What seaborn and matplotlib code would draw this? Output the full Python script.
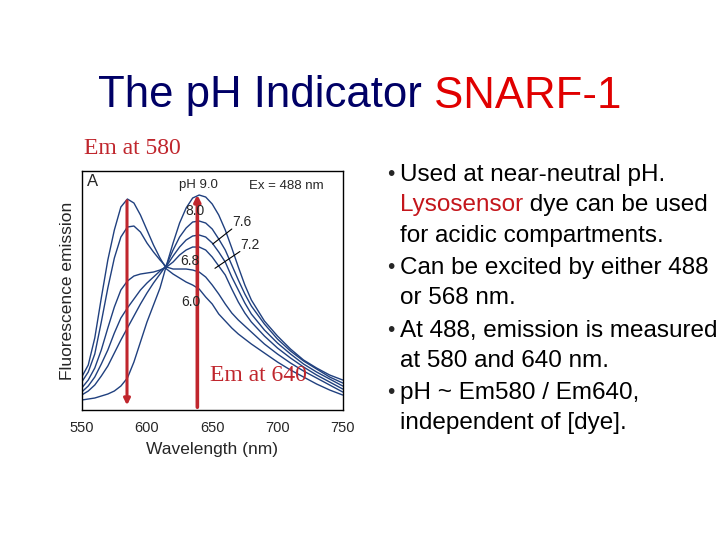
import matplotlib
matplotlib.use("Agg")
import matplotlib.pyplot as plt
import numpy as np
import pandas as pd
import seaborn as sns

# emission spectra of SNARF-1 (arbitrary units)
wavelength = [550, 555, 560, 565, 570, 575, 580, 585, 590, 595, 600, 605, 610, 615, 620, 625,
              630, 635, 640, 645, 650, 655, 660, 665, 670, 675, 680, 690, 700, 710, 720, 730,
              740, 750]
ph_60 = [33, 45, 72, 112, 150, 180, 203, 211, 207, 195, 180, 165, 152, 141, 136, 132,
         128, 125, 121, 113, 106, 96, 89, 82, 76, 71, 66, 57, 48, 40, 33, 26, 20, 15]
ph_68 = [28, 38, 56, 88, 122, 152, 173, 183, 184, 178, 167, 158, 150, 143, 141, 141,
         141, 140, 138, 133, 125, 116, 106, 97, 90, 84, 78, 66, 56, 47, 39, 32, 25, 18]
ph_72 = [22, 30, 42, 60, 82, 103, 120, 129, 134, 136, 137, 138, 140, 143, 148, 155,
         160, 163, 163, 160, 153, 144, 135, 121, 108, 97, 88, 74, 62, 52, 43, 35, 28, 21]
ph_76 = [18, 24, 33, 46, 60, 77, 92, 102, 111, 120, 127, 133, 139, 144, 154, 163,
         170, 174, 175, 173, 167, 158, 148, 133, 120, 107, 96, 80, 67, 56, 46, 38, 31, 24]
ph_80 = [15, 19, 25, 34, 44, 57, 70, 82, 94, 106, 117, 127, 136, 145, 160, 173,
         182, 188, 189, 187, 181, 171, 160, 145, 130, 116, 104, 86, 71, 59, 49, 41, 33, 27]
ph_90 = [10, 11, 12, 14, 16, 19, 24, 32, 48, 68, 88, 105, 122, 145, 167, 187,
         202, 212, 215, 213, 206, 195, 180, 162, 143, 125, 110, 89, 74, 61, 50, 42, 35, 30]

ph_labels = ["6.0", "6.8", "7.2", "7.6", "8.0", "9.0"]
series = [ph_60, ph_68, ph_72, ph_76, ph_80, ph_90]
x_ticks = [550, 600, 650, 700, 750]

bullets = [
    ["Used at near-neutral pH.", "|Lysosensor| dye can be used", "for acidic compartments."],
    ["Can be excited by either 488", "or 568 nm."],
    ["At 488, emission is measured", "at 580 and 640 nm."],
    ["pH ~ Em580 / Em640,", "independent of [dye]."],
]

df = pd.concat([pd.DataFrame({"wavelength": wavelength, "intensity": s, "pH": p})
                for p, s in zip(ph_labels, series)], ignore_index=True)

sns.set_style("white")
plt.rcParams["font.family"] = ["Liberation Sans", "DejaVu Sans"]

NAVY = "#20407f"
RED = "#c0262d"

fig = plt.figure(figsize=(7.2, 5.4), dpi=100)
fig.patch.set_facecolor("white")


def px(x, y):
    return x / 720, 1 - y / 540


# overlay axes for slide text
over = fig.add_axes([0, 0, 1, 1])
over.set_axis_off()
over.set_xlim(0, 1)
over.set_ylim(0, 1)

# title
t1 = over.text(*px(98, 96), "The pH Indicator", fontsize=31.5, color="#000066",
               ha="left", va="center")
over.annotate(" SNARF-1", xy=(1, 0), xycoords=t1, ha="left", va="bottom",
              fontsize=31.5, color="#e00000")

over.text(*px(84, 148), "Em at 580", fontsize=17, color=RED, ha="left", va="center",
          family="Liberation Serif")

# bullets
y = 175
for group in bullets:
    over.text(*px(387, y), "\u2022", fontsize=15, ha="left", va="center")
    for line in group:
        if line.startswith("|"):
            word, rest = line[1:].split("|")
            tw = over.text(*px(400, y), word, fontsize=17.5, color="#c4161c",
                           ha="left", va="center")
            over.annotate(rest, xy=(1, 0), xycoords=tw, ha="left", va="bottom",
                          fontsize=17.5, color="black")
        else:
            over.text(*px(400, y), line, fontsize=17.5, color="black",
                      ha="left", va="center")
        y += 30.5
    y += 1.5

# chart
ax = fig.add_axes([0.1135, 0.2407, 0.3625, 0.4426])
sns.lineplot(data=df, x="wavelength", y="intensity", hue="pH",
             palette=[NAVY] * len(ph_labels), estimator=None, legend=False,
             linewidth=1.0, ax=ax)
ax.set_xlim(550, 750)
ax.set_ylim(0, 239)
ax.set_xticks(x_ticks)
ax.set_yticks([])
ax.tick_params(axis="x", direction="in", length=3, labelsize=10.5, pad=8)
for sp in ax.spines.values():
    sp.set_color("black")
    sp.set_linewidth(1.0)
ax.set_xlabel("Wavelength (nm)", fontsize=12.5, labelpad=5)
ax.set_ylabel("Fluorescence emission", fontsize=12.5, labelpad=5)

# red arrows at 580 and 640
ax.annotate("", xy=(584.7, 2), xytext=(584.7, 212),
            arrowprops=dict(arrowstyle="-|>", color=RED, lw=2.2, mutation_scale=9))
ax.annotate("", xy=(638.6, 218), xytext=(638.6, 0),
            arrowprops=dict(arrowstyle="-|>", color=RED, lw=2.6, mutation_scale=9))

ax.text(558, 229, "A", fontsize=12, ha="center", va="center")
ax.text(639.5, 225, "pH 9.0", fontsize=9.5, ha="center", va="center")
ax.text(707, 224, "Ex = 488 nm", fontsize=9.5, ha="center", va="center")
ax.text(637, 199, "8.0", fontsize=10, ha="center", va="center")
ax.text(673, 188, "7.6", fontsize=10, ha="center", va="center")
ax.text(679, 165, "7.2", fontsize=10, ha="center", va="center")
ax.text(633, 149, "6.8", fontsize=10, ha="center", va="center")
ax.text(634, 108, "6.0", fontsize=10, ha="center", va="center")
ax.plot([665, 650.4], [181, 166], color="black", lw=0.8)
ax.plot([671.2, 652.1], [158.5, 141.7], color="black", lw=0.8)

ax.text(648, 35, "Em at 640", fontsize=17, color=RED, ha="left", va="center",
        family="Liberation Serif")

fig.savefig("out.png", dpi=100)
